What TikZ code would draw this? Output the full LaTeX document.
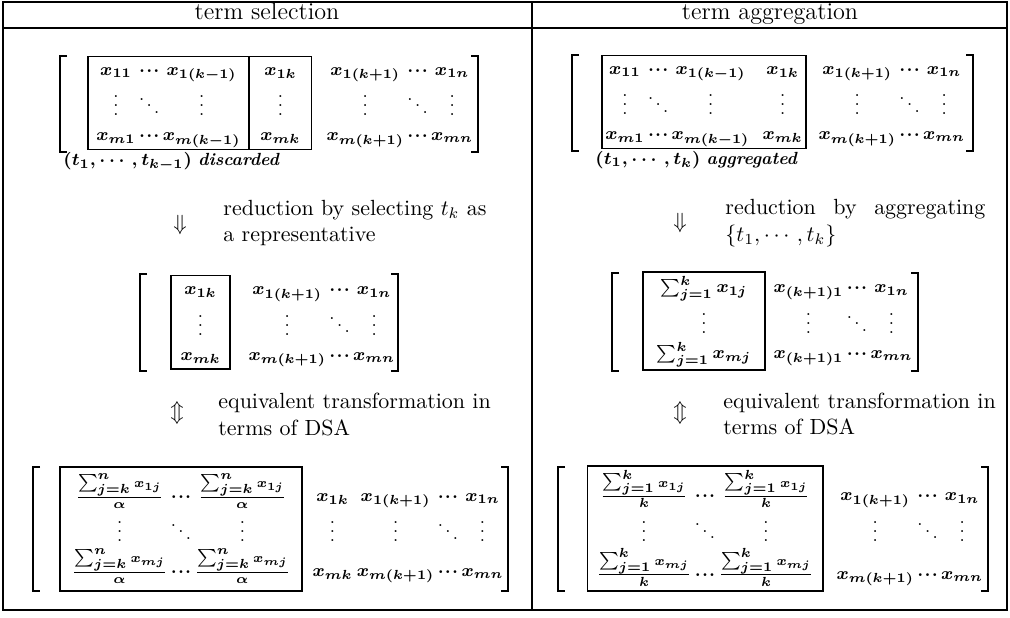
\documentclass[tikz,border=0pt]{standalone}
\usepackage{amsmath}
\usetikzlibrary{positioning}
\setlength{\arraycolsep}{0.5pt}
\renewcommand{\arraystretch}{1.15}
\newcommand{\cds}{\mathinner{\cdotp\mkern-2mu\cdotp\mkern-2mu\cdotp}}
\newcommand{\dsafrac}[4]{\frac{\textstyle\sum_{j=#1}^{#2}\scriptstyle x_{#3}}{#4}}
\newcommand{\lbrk}[3]{\draw[brk] (#1+7,#2) -- (#1,#2) -- (#1,#3) -- (#1+7,#3);}
\newcommand{\rbrk}[3]{\draw[brk] (#1-7,#2) -- (#1,#2) -- (#1,#3) -- (#1-7,#3);}

\begin{document}
\begin{tikzpicture}[x=0.016cm, y=-0.016cm,
  frame/.style={line width=0.8pt},
  blk/.style={draw, line width=0.5pt, inner sep=0pt, outer sep=0pt,
    font=\fontsize{8}{10}\selectfont\boldmath},
  ent/.style={inner sep=0pt, font=\fontsize{8}{10}\selectfont\boldmath},
  brk/.style={line width=0.6pt},
  note/.style={anchor=west, align=left, inner sep=0pt},
  hd/.style={anchor=base, font=\fontsize{11}{13}\selectfont}]
  \useasboundingbox (0,0) rectangle (1010,618);
  % --- table frame ---
  \draw[frame] (3,2) rectangle (1007,610);
  \draw[frame] (3,28) -- (1007,28);
  \draw[frame] (532,2) -- (532,610);
  \node[hd] (hsel) at (267,20) {term selection};
  \node[hd] (hagg) at (770,20) {term aggregation};

  % --- term selection: original matrix ---
  \node[blk, minimum width=2.576cm, minimum height=1.49cm] (selA) at (168.5,103)
       {$\begin{array}{ccc} x_{11} & \cds & x_{1(k-1)}\\ \vdots & \ddots & \vdots\\
         x_{m1} & \cds & x_{m(k-1)} \end{array}$};
  \node[blk, minimum width=1.008cm, minimum height=1.49cm, right=0pt of selA] (selB)
       {$\begin{array}{c} x_{1k}\\ \vdots\\ x_{mk} \end{array}$};
  \node[ent, anchor=west] (selR) at (325,103)
       {$\begin{array}{ccc} x_{1(k+1)} & \cds & x_{1n}\\ \vdots & \ddots & \vdots\\
         x_{m(k+1)} & \cds & x_{mn} \end{array}$};
  \lbrk{60}{56}{152}
  \rbrk{478}{56}{152}
  \node[ent, anchor=west] (seldisc) at (63,162)
       {$(t_1,\cdots,t_{k-1})$ \textbf{\textit{discarded}}};

  % --- term selection: reduction ---
  \node (selred) at (180,225) {$\Downarrow$};
  \node[note] (selredtxt) at (223,223) {reduction by selecting $t_k$ as\\a representative};
  \node[blk, minimum width=0.944cm, minimum height=1.49cm] (selC) at (200.5,322.5)
       {$\begin{array}{c} x_{1k}\\ \vdots\\ x_{mk} \end{array}$};
  \node[ent, anchor=west] (selCR) at (247,322.5)
       {$\begin{array}{ccc} x_{1(k+1)} & \cds & x_{1n}\\ \vdots & \ddots & \vdots\\
         x_{m(k+1)} & \cds & x_{mn} \end{array}$};
  \lbrk{140}{274}{371}
  \rbrk{398}{274}{371}

  % --- term selection: DSA form ---
  \node (seleq) at (177,413) {$\Updownarrow$};
  \node[note] (seleqtxt) at (218,414.5) {equivalent transformation in\\terms of DSA};
  \node[blk, minimum width=3.872cm, minimum height=1.984cm] (selD) at (181,529)
       {$\begin{array}{ccc}
         \dsafrac{k}{n}{1j}{\alpha} & \cds & \dsafrac{k}{n}{1j}{\alpha}\\
         \vdots & \ddots & \vdots\\
         \dsafrac{k}{n}{mj}{\alpha} & \cds & \dsafrac{k}{n}{mj}{\alpha} \end{array}$};
  \node[ent, anchor=west] (selDR) at (311,529)
       {$\begin{array}{c@{\hspace{2pt}}ccc}
         \vphantom{\dsafrac{k}{n}{1j}{\alpha}}x_{1k} & x_{1(k+1)} & \cds & x_{1n}\\
         \vdots & \vdots & \ddots & \vdots\\
         \vphantom{\dsafrac{k}{n}{mj}{\alpha}}x_{mk} & x_{m(k+1)} & \cds & x_{mn} \end{array}$};
  \lbrk{33}{467}{591}
  \rbrk{508}{467}{591}

  % --- term aggregation: original matrix ---
  \node[blk, minimum width=3.264cm, minimum height=1.49cm] (aggA) at (704,102)
       {$\begin{array}{ccc@{\hspace{6pt}}c} x_{11} & \cds & x_{1(k-1)} & x_{1k}\\
         \vdots & \ddots & \vdots & \vdots\\
         x_{m1} & \cds & x_{m(k-1)} & x_{mk} \end{array}$};
  \node[ent, anchor=west] (aggR) at (817,102)
       {$\begin{array}{ccc} x_{1(k+1)} & \cds & x_{1n}\\ \vdots & \ddots & \vdots\\
         x_{m(k+1)} & \cds & x_{mn} \end{array}$};
  \lbrk{572}{55}{151}
  \rbrk{973}{55}{151}
  \node[ent, anchor=west] (aggdisc) at (595,160)
       {$(t_1,\cdots,t_k)$ \textbf{\textit{aggregated}}};

  % --- term aggregation: reduction ---
  \node (aggred) at (680,223) {$\Downarrow$};
  \node[note] (aggredtxt) at (725,223)
       {\makebox[4.16cm][s]{reduction by aggregating}\\$\{t_1,\cdots,t_k\}$};
  \node[blk, minimum width=1.952cm, minimum height=1.568cm] (aggC) at (704,321)
       {$\begin{array}{c} \sum_{j=1}^{k} x_{1j}\\ \vdots\\ \sum_{j=1}^{k} x_{mj} \end{array}$};
  \node[ent, anchor=west] (aggCR) at (772,321)
       {$\begin{array}{ccc} \vphantom{\sum_{j=1}^{k}}x_{(k+1)1} & \cds & x_{1n}\\
         \vdots & \ddots & \vdots\\
         \vphantom{\sum_{j=1}^{k}}x_{(k+1)1} & \cds & x_{mn} \end{array}$};
  \lbrk{612}{273}{371}
  \rbrk{918}{273}{371}

  % --- term aggregation: DSA form ---
  \node (aggeq) at (680,413) {$\Updownarrow$};
  \node[note] (aggeqtxt) at (723,414) {equivalent transformation in\\terms of DSA};
  \node[blk, minimum width=3.776cm, minimum height=2.0cm] (aggD) at (705,528.5)
       {$\begin{array}{ccc}
         \dsafrac{1}{k}{1j}{k} & \cds & \dsafrac{1}{k}{1j}{k}\\
         \vdots & \ddots & \vdots\\
         \dsafrac{1}{k}{mj}{k} & \cds & \dsafrac{1}{k}{mj}{k} \end{array}$};
  \node[ent, anchor=west] (aggDR) at (835,528.5)
       {$\begin{array}{ccc}
         \vphantom{\dsafrac{1}{k}{1j}{k}}x_{1(k+1)} & \cds & x_{1n}\\
         \vdots & \ddots & \vdots\\
         \vphantom{\dsafrac{1}{k}{mj}{k}}x_{m(k+1)} & \cds & x_{mn} \end{array}$};
  \lbrk{558}{467}{591}
  \rbrk{988}{467}{591}
\end{tikzpicture}
\end{document}
